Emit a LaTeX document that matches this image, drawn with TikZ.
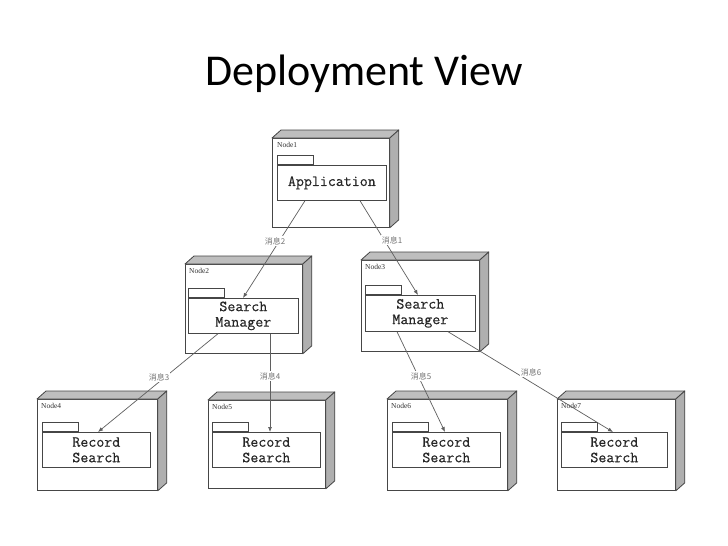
\documentclass[tikz,border=0pt]{standalone}
\usepackage{fontspec}
\setmainfont{Liberation Serif}
\newfontfamily\titlefont{Carlito}
\newfontfamily\cjk{Noto Sans CJK SC}
\newfontfamily\artfont[FakeBold=0.4]{Latin Modern Mono}
\usetikzlibrary{calc,arrows.meta}
\definecolor{topc}{RGB}{190,190,190}
\definecolor{sidec}{RGB}{175,175,175}
\definecolor{edgec}{RGB}{70,70,70}
\definecolor{linkc}{RGB}{95,95,95}
\tikzset{
  front/.style={draw=edgec, line width=0.8pt, fill=white, anchor=north west, inner sep=0pt},
  face/.style={draw=edgec, line width=0.8pt, line join=round},
  tabbox/.style={draw=edgec, line width=0.7pt, fill=white, anchor=south west, inner sep=0pt, minimum width=36pt, minimum height=9pt},
  artbox/.style={draw=edgec, line width=0.7pt, fill=white, anchor=north west, inner sep=0pt, align=center,
     font=\artfont\fontsize{15.5}{15.5}\selectfont, text=black!85},
  nlabel/.style={anchor=west, inner sep=0pt, font=\fontsize{7.5}{8}\selectfont, text=black!80},
  msg/.style={fill=white, inner sep=1pt, font=\cjk\fontsize{8}{9}\selectfont, text=black!55},
  link/.style={draw=linkc, line width=0.7pt, -{Latex[length=5pt,width=4pt]}}
}
% #1 name, #2 x1, #3 y1, #4 x2, #5 y2 (pixel coordinates, y downwards)
\newcommand{\depbox}[5]{%
  \node[front, minimum width={#4-#2}, minimum height={#5-#3}] (#1) at (#2,#3) {};
  \filldraw[face, fill=topc] (#1.north west) -- ++(9,-8) -- ($(#1.north east)+(9,-8)$) -- (#1.north east) -- cycle;
  \filldraw[face, fill=sidec] (#1.north east) -- ++(9,-8) -- ($(#1.south east)+(9,-8)$) -- (#1.south east) -- cycle;
}
\begin{document}
\begin{tikzpicture}[x=1pt,y=-1pt]
\useasboundingbox (0,0) rectangle (728,546);
\fill[white] (0,0) rectangle (728,546);

\node[anchor=base, inner sep=0pt, font=\titlefont\fontsize{44}{48}\selectfont] (title) at (364,85) {Deployment View};

% deployment nodes
\depbox{n1}{272}{138}{389}{227}
\depbox{n2}{185}{264}{302}{353}
\depbox{n3}{361}{260}{479}{351}
\depbox{n4}{37}{399}{157}{490}
\depbox{n5}{208}{400}{325}{488}
\depbox{n6}{387}{399}{507}{490}
\depbox{n7}{557}{399}{675}{490}

\node[nlabel] (l1) at (277,145) {Node1};
\node[nlabel] (l2) at (189,271) {Node2};
\node[nlabel] (l3) at (365,267) {Node3};
\node[nlabel] (l4) at (41,406) {Node4};
\node[nlabel] (l5) at (212,407) {Node5};
\node[nlabel] (l6) at (391,406) {Node6};
\node[nlabel] (l7) at (561,406) {Node7};

% artifacts
\node[artbox, minimum width=109pt, minimum height=35pt] (a1) at (277,165) {Application};
\node[tabbox] (t1) at (a1.north west) {};
\node[artbox, minimum width=110pt, minimum height=35pt] (a2) at (188,298) {Search\\Manager};
\node[tabbox] (t2) at (a2.north west) {};
\node[artbox, minimum width=110pt, minimum height=36pt] (a3) at (365,295) {Search\\Manager};
\node[tabbox] (t3) at (a3.north west) {};
\node[artbox, minimum width=108pt, minimum height=35pt] (a4) at (42,432) {Record\\Search};
\node[tabbox] (t4) at (a4.north west) {};
\node[artbox, minimum width=108pt, minimum height=35pt] (a5) at (212,432) {Record\\Search};
\node[tabbox] (t5) at (a5.north west) {};
\node[artbox, minimum width=108pt, minimum height=35pt] (a6) at (392,432) {Record\\Search};
\node[tabbox] (t6) at (a6.north west) {};
\node[artbox, minimum width=106pt, minimum height=35pt] (a7) at (561,432) {Record\\Search};
\node[tabbox] (t7) at (a7.north west) {};

% messages
\draw[link] ($(a1.south west)+(83,0)$) -- ($(a3.north west)+(53,0)$);
\draw[link] ($(a1.south west)+(28,0)$) -- ($(a2.north west)+(55,0)$);
\draw[link] ($(a2.south west)+(30,0)$) -- ($(a4.north west)+(56,0)$);
\draw[link] ($(a2.south west)+(82,0)$) -- ($(a5.north west)+(58,0)$);
\draw[link] ($(a3.south west)+(32,0)$) -- ($(a6.north west)+(53,0)$);
\draw[link] ($(a3.south west)+(83,0)$) -- ($(a7.north west)+(52,0)$);

\node[msg] (m1) at (392,240) {消息1};
\node[msg] (m2) at (275,241) {消息2};
\node[msg] (m3) at (159,377) {消息3};
\node[msg] (m4) at (270,376) {消息4};
\node[msg] (m5) at (421,376) {消息5};
\node[msg] (m6) at (531,372) {消息6};
\end{tikzpicture}
\end{document}
